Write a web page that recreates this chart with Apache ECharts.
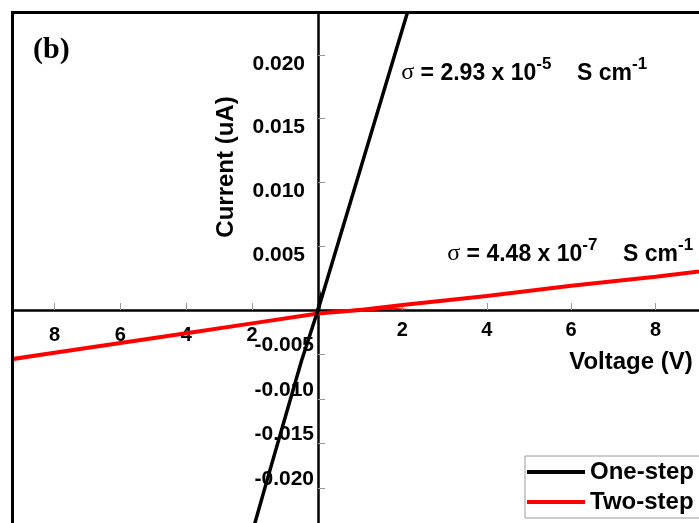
<!DOCTYPE html>
<html>
<head>
<meta charset="utf-8">
<script src="https://cdn.jsdelivr.net/npm/echarts@6/dist/echarts.min.js"></script>
<style>html,body{margin:0;padding:0;background:#fff}#c{width:699px;height:523px}</style>
</head>
<body>
<div id="c"></div>
<script>
// ---- data (Voltage in V, Current in uA) ----
const oneStepV = [-2.0, -1.5, -1.0, -0.5, 0, 0.5, 1.0, 1.5, 2.0, 2.5];
const oneStepI = [-0.0250, -0.0185, -0.0121, -0.0057, 0, 0.0055, 0.0110, 0.0165, 0.0220, 0.0275];
const twoStepV = [-10, -8, -6, -4, -2, 0, 1, 2, 4, 6, 8, 10];
const twoStepI = [-0.0059, -0.0048, -0.0037, -0.0026, -0.0015, -0.0004, 0.0000, 0.0004, 0.0011, 0.0019, 0.0026, 0.0034];
const seriesNames = ['One-step', 'Two-step'];
const xTicksNeg = [-8, -6, -4, -2];
const xTicksPos = [2, 4, 6, 8];
const yTicksPos = [0.005, 0.010, 0.015, 0.020];
const yTicksNeg = [-0.020, -0.015, -0.010, -0.005];
const xRangeNeg = [-9.23, 0];
const xRangePos = [0, 9.03];
const yRangePos = [0, 0.0232];
const yRangeNeg = [-0.0239, 0];
const sigmaOne = ['2.93 x 10', '-5'];
const sigmaTwo = ['4.48 x 10', '-7'];

const FONT = '"Liberation Sans", Arial, sans-serif';
const chart = echarts.init(document.getElementById('c'), null, {renderer: 'canvas'});

const OX = 318, OY = 310;
const grids = [
  {left: OX, top: 14, right: 0, height: OY - 14},            // Q1 top-right
  {left: 14, top: 14, width: OX - 14, height: OY - 14},      // Q2 top-left
  {left: 14, top: OY, width: OX - 14, bottom: 0},            // Q3 bottom-left
  {left: OX, top: OY, right: 0, bottom: 0}                   // Q4 bottom-right
].map(g => Object.assign({outerBoundsMode: 'none', containLabel: false}, g));

const tickStyle = {show: true, inside: true, length: 7, lineStyle: {color: '#9a9a9a', width: 1}};
const lineAx = {show: true, onZero: false, lineStyle: {color: '#000', width: 2.5}};
const lblX = {color: '#000', fontSize: 20, fontWeight: 'bold', fontFamily: FONT};
const lblY = {color: '#000', fontSize: 21, fontWeight: 'bold', fontFamily: FONT};

const xAxes = [
  {gridIndex: 0, type: 'value', min: xRangePos[0], max: xRangePos[1], position: 'bottom',
   axisLine: lineAx, splitLine: {show: false},
   axisTick: Object.assign({customValues: xTicksPos}, tickStyle),
   axisLabel: Object.assign({customValues: xTicksPos, margin: 10, formatter: v => String(Math.abs(v))}, lblX)},
  {gridIndex: 1, type: 'value', min: xRangeNeg[0], max: xRangeNeg[1], position: 'bottom',
   axisLine: lineAx, splitLine: {show: false},
   axisTick: Object.assign({customValues: xTicksNeg}, tickStyle),
   axisLabel: Object.assign({customValues: xTicksNeg, margin: 15, formatter: v => String(Math.abs(v))}, lblX)},
  {gridIndex: 2, type: 'value', min: xRangeNeg[0], max: xRangeNeg[1], show: false, splitLine: {show: false}},
  {gridIndex: 3, type: 'value', min: xRangePos[0], max: xRangePos[1], show: false, splitLine: {show: false}}
];
const yAxes = [
  {gridIndex: 0, type: 'value', min: yRangePos[0], max: yRangePos[1], position: 'left',
   axisLine: lineAx, splitLine: {show: false},
   axisTick: Object.assign({customValues: yTicksPos}, tickStyle),
   axisLabel: Object.assign({customValues: yTicksPos, margin: 13, verticalAlign: 'top', lineHeight: 18,
     formatter: v => v.toFixed(3)}, lblY)},
  {gridIndex: 1, type: 'value', min: yRangePos[0], max: yRangePos[1], show: false, splitLine: {show: false}},
  {gridIndex: 2, type: 'value', min: yRangeNeg[0], max: yRangeNeg[1], show: false, splitLine: {show: false}},
  {gridIndex: 3, type: 'value', min: yRangeNeg[0], max: yRangeNeg[1], position: 'left',
   axisLine: lineAx, splitLine: {show: false},
   axisTick: Object.assign({customValues: yTicksNeg}, tickStyle),
   axisLabel: Object.assign({customValues: yTicksNeg, margin: 4, verticalAlign: 'bottom', lineHeight: 18,
     formatter: v => v.toFixed(3)}, lblY)}
];

const oneData = oneStepV.map((v, i) => [v, oneStepI[i]]);
const twoData = twoStepV.map((v, i) => [v, twoStepI[i]]);
const series = [];
[0, 1, 2, 3].forEach(q => {
  series.push({type: 'line', name: seriesNames[1], xAxisIndex: q, yAxisIndex: q, data: twoData,
    symbol: 'none', clip: true, silent: true, z: 3,
    lineStyle: {color: '#ff0000', width: 4}, itemStyle: {color: '#ff0000'}});
  series.push({type: 'line', name: seriesNames[0], xAxisIndex: q, yAxisIndex: q, data: oneData,
    symbol: 'none', clip: true, silent: true, z: 4,
    lineStyle: {color: '#000000', width: 3.5}, itemStyle: {color: '#000000'}});
});

function sigmaText(parts) {
  return '{z| }{s|σ}{m| = ' + parts[0] + '}{p|' + parts[1] + '}{m|    S cm}{p|-1}';
}
const rich = {
  z: {fontSize: 1, lineHeight: 29, verticalAlign: 'middle'},
  s: {fontFamily: '"Liberation Serif", "Times New Roman", serif', fontSize: 24, lineHeight: 21, verticalAlign: 'bottom', color: '#000'},
  m: {fontFamily: FONT, fontSize: 23, fontWeight: 'bold', lineHeight: 21, verticalAlign: 'bottom', color: '#000'},
  p: {fontFamily: FONT, fontSize: 17, fontWeight: 'bold', lineHeight: 15, verticalAlign: 'top', color: '#000'}
};

chart.setOption({
  animation: false,
  backgroundColor: '#fff',
  grid: grids,
  xAxis: xAxes,
  yAxis: yAxes,
  series: series,
  legend: {
    data: seriesNames, orient: 'vertical', left: 525, top: 456,
    icon: 'rect', itemWidth: 58, itemHeight: 4, itemGap: 6,
    padding: [4, 30, 4, 2], borderColor: '#9a9a9a', borderWidth: 1, borderRadius: 0,
    backgroundColor: '#fff', selectedMode: false,
    itemStyle: {borderWidth: 0},
    textStyle: {fontSize: 24, fontWeight: 'bold', color: '#000', fontFamily: FONT}
  },
  graphic: [
    {type: 'rect', z: 100, silent: true, shape: {x: 12.5, y: 12.5, width: 800, height: 700},
     style: {fill: 'none', stroke: '#000', lineWidth: 3}},
    {type: 'text', z: 100, x: 33, y: 50, silent: true,
     style: {text: '(b)', fontFamily: '"Liberation Serif", "Times New Roman", serif', fontSize: 30, fontWeight: 'bold',
       fill: '#000', align: 'left', verticalAlign: 'middle'}},
    {type: 'text', z: 100, x: 226, y: 167, rotation: Math.PI / 2, silent: true,
     style: {text: 'Current (uA)', fontFamily: FONT, fontSize: 24, fontWeight: 'bold', fill: '#000',
       align: 'center', verticalAlign: 'middle'}},
    {type: 'text', z: 100, x: 631, y: 362, silent: true,
     style: {text: 'Voltage (V)', fontFamily: FONT, fontSize: 24, fontWeight: 'bold', fill: '#000',
       align: 'center', verticalAlign: 'middle'}},
    {type: 'text', z: 100, x: 401, y: 56, silent: true,
     style: {text: sigmaText(sigmaOne), rich: rich, align: 'left', verticalAlign: 'top'}},
    {type: 'text', z: 100, x: 447, y: 237, silent: true,
     style: {text: sigmaText(sigmaTwo), rich: rich, align: 'left', verticalAlign: 'top'}}
  ]
});
</script>
</body>
</html>
